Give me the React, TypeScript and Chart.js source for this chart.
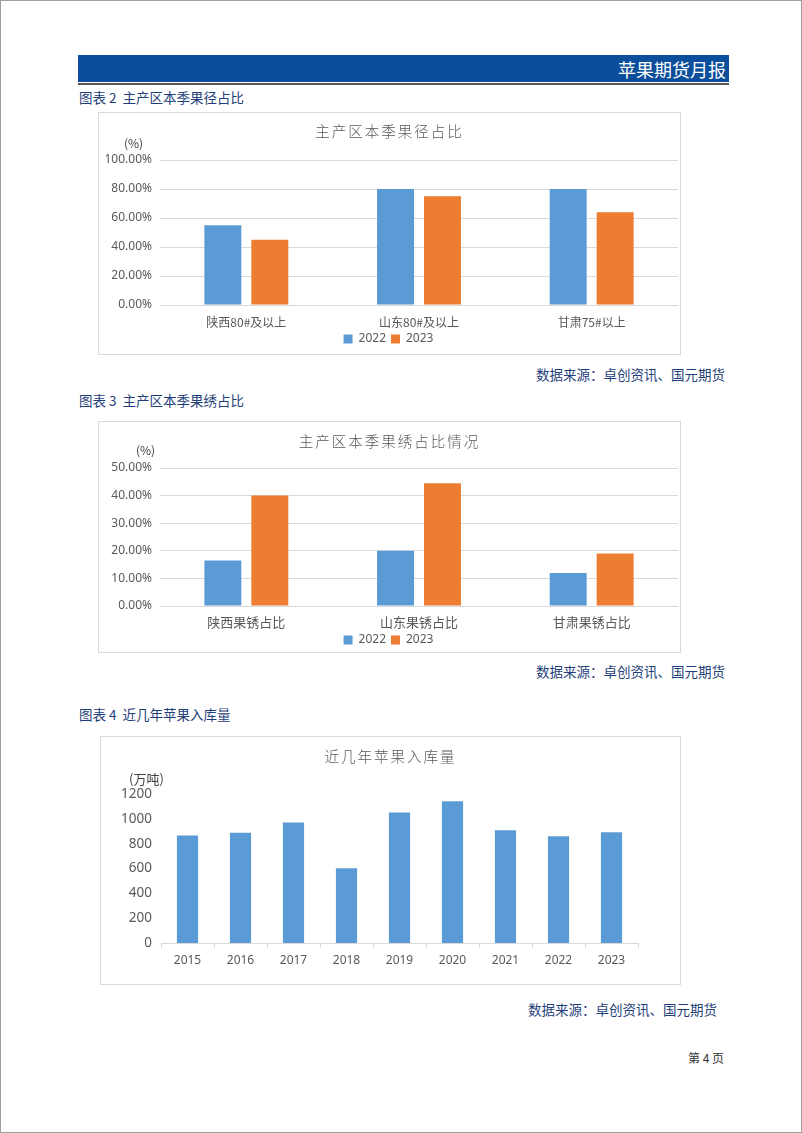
import React, { useEffect, useRef } from "react";
import { Chart, registerables } from "chart.js";

Chart.register(...registerables);

// ---------- data ----------
const seriesNames = ["2022", "2023"];

const sizeCategories = ["陕西80#及以上", "山东80#及以上", "甘肃75#以上"];
const size2022 = [55, 80, 80];
const size2023 = [45, 75, 64];

const rustCategories = ["陕西果锈占比", "山东果锈占比", "甘肃果锈占比"];
const rust2022 = [16.5, 20, 12];
const rust2023 = [40, 44.5, 19];

const storageYears = ["2015", "2016", "2017", "2018", "2019", "2020", "2021", "2022", "2023"];
const storageValues = [866, 887, 970, 603, 1051, 1141, 908, 860, 892];

// ---------- styles ----------
const BLUE = "#5B9BD5";
const ORANGE = "#ED7D31";
const GRID = "#D9D9D9";
const TEXT = "#595959";
const NAVY = "#1F3F7A";
const CJK = '"Noto Sans CJK SC", "Noto Sans", sans-serif';
const SANS = '"Noto Sans", "Liberation Sans", sans-serif';

function ChartCanvas({ width, height, config }: { width: number; height: number; config: any }) {
  const ref = useRef<HTMLCanvasElement>(null);
  useEffect(() => {
    const chart = new Chart(ref.current as HTMLCanvasElement, config);
    return () => chart.destroy();
  }, []);
  return <canvas ref={ref} width={width} height={height} style={{ width, height, display: "block" }} />;
}

function groupedConfig(opts: {
  labels: string[];
  a: number[];
  b: number[];
  max: number;
  step: number;
  padTop: number;
  xHeight: number;
  xPad: number;
  xFont: number;
  legendPad: number;
  legendMax: number;
}) {
  return {
    type: "bar",
    data: {
      labels: opts.labels,
      datasets: [
        { label: seriesNames[0], data: opts.a, backgroundColor: BLUE, categoryPercentage: 0.544, barPercentage: 0.787 },
        { label: seriesNames[1], data: opts.b, backgroundColor: ORANGE, categoryPercentage: 0.544, barPercentage: 0.787 },
      ],
    },
    options: {
      responsive: false,
      animation: false,
      devicePixelRatio: 1,
      layout: { padding: { top: opts.padTop, right: 2, left: 0, bottom: 0 } },
      plugins: {
        tooltip: { enabled: false },
        legend: {
          position: "bottom",
          maxHeight: opts.legendMax,
          labels: {
            boxWidth: 9,
            boxHeight: 9,
            padding: opts.legendPad,
            color: TEXT,
            font: { size: 12, family: SANS },
          },
        },
      },
      scales: {
        x: {
          grid: { display: false, drawTicks: false },
          border: { display: false },
          ticks: {
            color: TEXT,
            padding: opts.xPad,
            maxRotation: 0,
            font: { size: opts.xFont, family: CJK, lineHeight: 1 },
          },
          afterFit: (s: any) => {
            s.height = opts.xHeight;
          },
        },
        y: {
          min: 0,
          max: opts.max,
          grid: { color: GRID, drawTicks: false },
          border: { display: false },
          ticks: {
            stepSize: opts.step,
            padding: 8,
            color: TEXT,
            font: { size: 12, family: SANS },
            callback: (v: any) => Number(v).toFixed(2) + "%",
          },
          afterFit: (s: any) => {
            s.width = 61;
          },
        },
      },
    },
  };
}

const storageConfig = {
  type: "bar",
  data: {
    labels: storageYears,
    datasets: [
      { label: "入库量", data: storageValues, backgroundColor: BLUE, categoryPercentage: 1, barPercentage: 0.4 },
    ],
  },
  options: {
    responsive: false,
    animation: false,
    devicePixelRatio: 1,
    layout: { padding: { top: 57, right: 42, left: 0, bottom: 0 } },
    plugins: { tooltip: { enabled: false }, legend: { display: false } },
    scales: {
      x: {
        grid: { display: true, drawOnChartArea: false, drawTicks: true, tickLength: 5, color: GRID, offset: true },
        border: { display: true, color: GRID },
        ticks: { color: TEXT, padding: 5, maxRotation: 0, font: { size: 12, family: SANS } },
        afterFit: (s: any) => {
          s.height = 41;
        },
      },
      y: {
        min: 0,
        max: 1200,
        grid: { display: false, drawTicks: false },
        border: { display: false },
        ticks: {
          stepSize: 200,
          padding: 9,
          color: TEXT,
          font: { size: 13.5, family: SANS },
          callback: (v: any) => String(v),
        },
        afterFit: (s: any) => {
          s.width = 60;
        },
      },
    },
  },
};

const abs = (left: number, top: number, extra: any = {}) => ({ position: "absolute" as const, left, top, ...extra });

function Caption({ top, text }: { top: number; text: string }) {
  return (
    <div
      style={abs(78, top - 9, {
        fontSize: 13.5,
        lineHeight: "18px",
        color: NAVY,
        fontFamily: CJK,
        whiteSpace: "pre",
      })}
    >
      {text}
    </div>
  );
}

function Source({ top, right }: { top: number; right: number }) {
  return (
    <div
      style={abs(right - 300, top - 9, {
        width: 300,
        textAlign: "right",
        fontSize: 13.5,
        lineHeight: "18px",
        color: NAVY,
        fontFamily: CJK,
        whiteSpace: "nowrap",
      })}
    >
      数据来源：卓创资讯、国元期货
    </div>
  );
}

function ChartBox(props: {
  left: number;
  top: number;
  width: number;
  height: number;
  title: string;
  titleY: number;
  unit: string;
  unitX: number;
  unitY: number;
  unitSize: number;
  config: any;
}) {
  const { left, top, width, height, title, titleY, unit, unitX, unitY, unitSize, config } = props;
  return (
    <div
      style={abs(left, top, {
        width,
        height,
        boxSizing: "border-box",
        border: "1px solid " + GRID,
        background: "#fff",
      })}
    >
      <div style={abs(0, 0)}>
        <ChartCanvas width={width - 2} height={height - 2} config={config} />
      </div>
      <div
        style={abs(0, titleY - top - 1 - 10, {
          width: width - 2,
          textAlign: "center",
          fontSize: 14.5,
          lineHeight: "20px",
          letterSpacing: "2px",
          color: TEXT,
          fontFamily: CJK,
          fontWeight: 300,
        })}
      >
        {title}
      </div>
      <div
        style={abs(unitX - left - 1, unitY - top - 1 - 9, {
          fontSize: unitSize,
          lineHeight: "18px",
          color: "#404040",
          fontFamily: CJK,
          whiteSpace: "nowrap",
        })}
      >
        {unit}
      </div>
    </div>
  );
}

export default function App() {
  const sizeConfig = groupedConfig({
    labels: sizeCategories,
    a: size2022,
    b: size2023,
    max: 100,
    step: 20,
    padTop: 47,
    xHeight: 23,
    xPad: 11,
    xFont: 12,
    legendPad: 5,
    legendMax: 26,
  });
  const rustConfig = groupedConfig({
    labels: rustCategories,
    a: rust2022,
    b: rust2023,
    max: 50,
    step: 10,
    padTop: 46,
    xHeight: 23,
    xPad: 9.5,
    xFont: 13,
    legendPad: 5,
    legendMax: 23,
  });

  return (
    <div
      style={abs(0, 0, {
        width: 802,
        height: 1133,
        boxSizing: "border-box",
        border: "1px solid #a0a0a0",
        background: "#fff",
        fontFamily: CJK,
      })}
    >
      {/* header */}
      <div style={abs(77, 54, { width: 651, height: 27, background: "#0B4E9B" })}>
        <div
          style={{
            position: "absolute",
            right: 3,
            top: 3,
            fontSize: 18,
            lineHeight: "22px",
            color: "#fff",
            fontFamily: CJK,
          }}
        >
          苹果期货月报
        </div>
      </div>
      <div style={abs(77, 82, { width: 651, height: 2, background: "#555" })} />

      <Caption top={96} text="图表 2  主产区本季果径占比" />
      <ChartBox
        left={97}
        top={111}
        width={583}
        height={243}
        title="主产区本季果径占比"
        titleY={130}
        unit="(%)"
        unitX={123}
        unitY={142}
        unitSize={12}
        config={sizeConfig}
      />
      <Source top={373} right={724} />

      <Caption top={399} text="图表 3  主产区本季果绣占比" />
      <ChartBox
        left={97}
        top={420}
        width={583}
        height={232}
        title="主产区本季果绣占比情况"
        titleY={440}
        unit="(%)"
        unitX={135}
        unitY={449}
        unitSize={12}
        config={rustConfig}
      />
      <Source top={670} right={724} />

      <Caption top={713} text="图表 4  近几年苹果入库量" />
      <ChartBox
        left={99}
        top={735}
        width={581}
        height={249}
        title="近几年苹果入库量"
        titleY={755}
        unit="(万吨)"
        unitX={128}
        unitY={778}
        unitSize={13}
        config={storageConfig}
      />
      <Source top={1008} right={716} />

      <div
        style={abs(623, 1048, {
          width: 100,
          textAlign: "right",
          fontSize: 12,
          lineHeight: "18px",
          color: "#333",
          fontFamily: CJK,
          whiteSpace: "pre",
        })}
      >
        第 4 页
      </div>
    </div>
  );
}
